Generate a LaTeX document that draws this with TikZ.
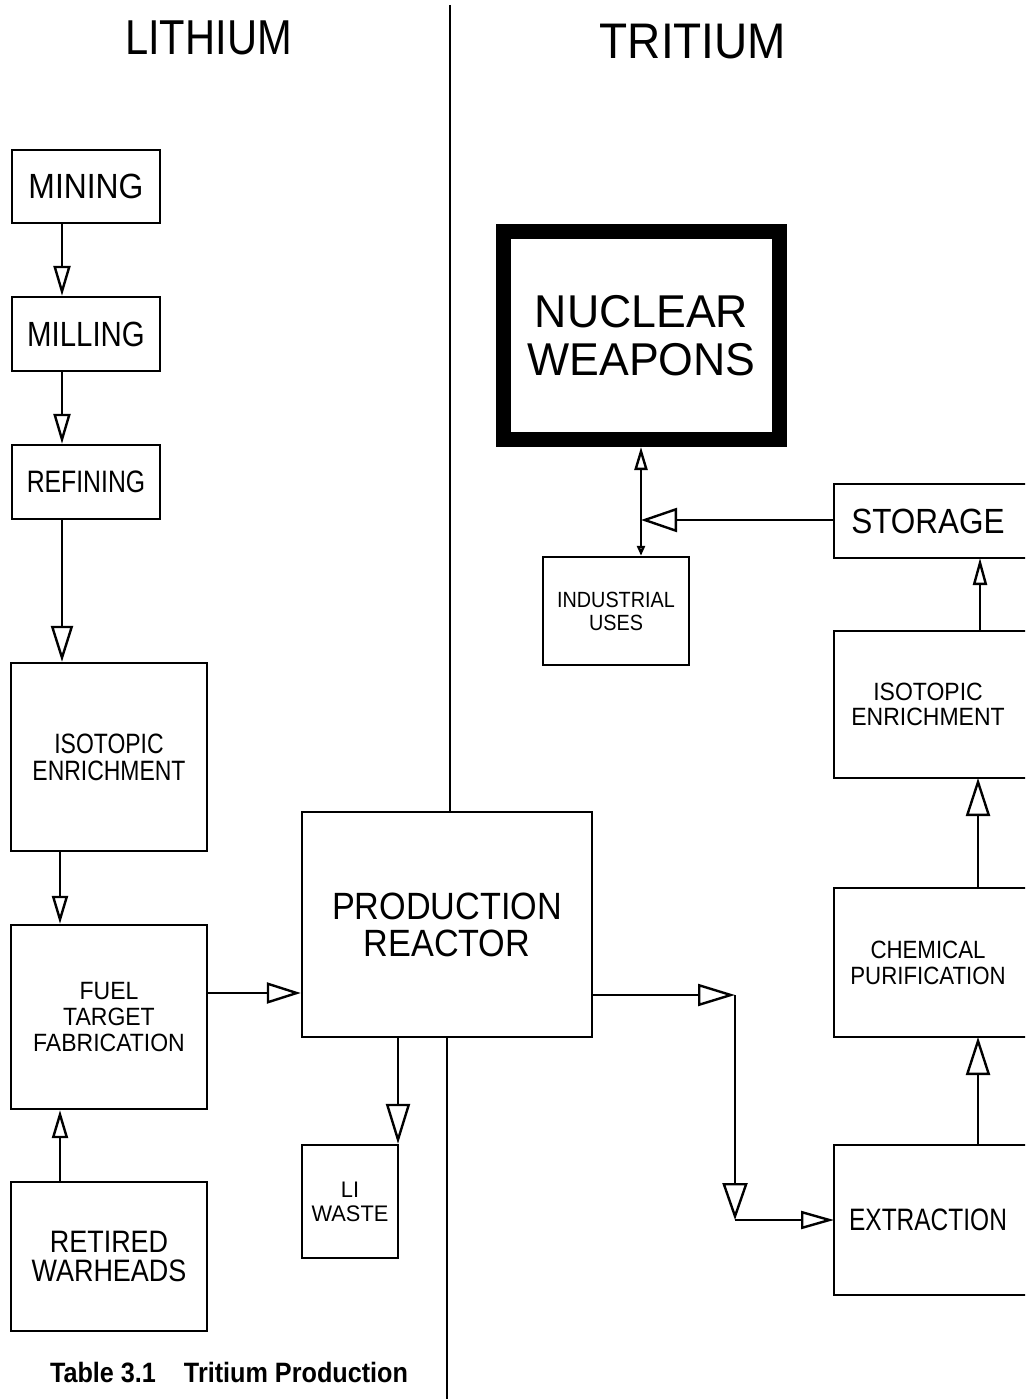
\documentclass[tikz,border=0pt]{standalone}
\usepackage{fontspec}
\setmainfont{Liberation Sans}
\usetikzlibrary{arrows.meta}
\newcommand\fs[3]{\fontsize{#1}{#2}\selectfont\addfontfeature{FakeStretch=#3}}
\begin{document}
\begin{tikzpicture}[x=1pt,y=-1pt,
  box/.style={draw, line width=2.4pt, inner sep=0pt, align=center},
  rbox/.style={draw=none, inner sep=0pt, outer sep=0pt, align=center, minimum width=188pt},
  side/.style={line width=2.4pt},
  conn/.style={line width=2.4pt},
  txt/.style={inner sep=0pt, align=center}
]
\useasboundingbox (0,0) rectangle (1025,1399);
\clip (0,0) rectangle (1025,1399);

% titles
\node[txt, font=\fs{49}{50}{0.85}] (tlith) at (208.5,38) {LITHIUM};
\node[txt, font=\fs{50}{50}{0.92}] (ttrit) at (693,42) {TRITIUM};

% left column
\node[box, minimum width=148pt, minimum height=73pt, font=\fs{35}{36}{0.91}] (mining) at (86,186.5) {MINING};
\node[box, minimum width=148pt, minimum height=74pt, font=\fs{35}{36}{0.84}] (milling) at (86,334) {MILLING};
\node[box, minimum width=148pt, minimum height=74pt, font=\fs{31}{32}{0.8}] (refining) at (86,482) {REFINING};
\node[box, minimum width=196pt, minimum height=188pt, font=\fs{28}{27}{0.82}] (isoL) at (109,757) {ISOTOPIC\\ENRICHMENT};
\node[box, minimum width=196pt, minimum height=184pt, font=\fs{25}{26}{0.92}] (fuel) at (109,1017) {FUEL\\TARGET\\FABRICATION};
\node[box, minimum width=196pt, minimum height=149pt, font=\fs{31}{29}{0.87}] (retired) at (109,1256.5) {RETIRED\\WARHEADS};

% centre
\node[box, minimum width=290pt, minimum height=225pt, font=\fs{38}{37}{0.9}] (reactor) at (447,924.5) {PRODUCTION\\REACTOR};
\node[box, minimum width=96pt, minimum height=113pt, font=\fs{22.5}{24}{0.97}] (liwaste) at (350,1201.5) {LI\\WASTE};
\node[box, line width=15pt, minimum width=276pt, minimum height=208pt, font=\fs{46}{48}{0.97}] (nw) at (641.5,335.5) {NUCLEAR\\WEAPONS};
\node[box, minimum width=146pt, minimum height=108pt, font=\fs{22}{23}{0.9}] (iu) at (616,611) {INDUSTRIAL\\USES};

% right column (boxes run off the right edge)
\node[rbox, minimum height=74pt, font=\fs{35}{36}{0.9}] (storage) at (928,521) {STORAGE};
\node[rbox, minimum height=147pt, font=\fs{25}{25}{0.92}] (isoR) at (928,704.5) {ISOTOPIC\\ENRICHMENT};
\node[rbox, minimum height=149pt, font=\fs{25}{26}{0.89}] (chem) at (928,962.5) {CHEMICAL\\PURIFICATION};
\node[rbox, minimum height=150pt, font=\fs{31}{32}{0.79}] (extr) at (928,1220) {EXTRACTION};
\foreach \n in {storage,isoR,chem,extr}
  \draw[side] ([xshift=40pt]\n.north east) -- (\n.north west) -- (\n.south west) -- ([xshift=40pt]\n.south east);

% caption
\node[txt, font={\bfseries\fs{28}{28}{0.9}}] (cap) at (229,1372) {Table 3.1\quad Tritium Production};

% helper coordinates
\coordinate (xL) at (62,0);
\coordinate (xL2) at (60,0);
\coordinate (yF) at (0,993);
\coordinate (xW) at (398,0);
\coordinate (c1) at (735,995);
\coordinate (c2) at (735,1220);
\coordinate (xR) at (978,0);
\coordinate (xR2) at (980,0);
\coordinate (j) at (641,520);
\coordinate (dt) at (450,5);
\coordinate (db) at (447,1399);

% divider
\draw[conn] (dt) -- (dt |- reactor.north);
\draw[conn] (reactor.south -| db) -- (db);

% connectors
\draw[conn, -{Triangle[open,length=30pt,width=17pt]}] (mining.south -| xL) -- (milling.north -| xL);
\draw[conn, -{Triangle[open,length=30pt,width=17pt]}] (milling.south -| xL) -- (refining.north -| xL);
\draw[conn, -{Triangle[open,length=36pt,width=22pt]}] (refining.south -| xL) -- (isoL.north -| xL);
\draw[conn, -{Triangle[open,length=28pt,width=16pt]}] (isoL.south -| xL2) -- (fuel.north -| xL2);
\draw[conn, -{Triangle[open,length=28pt,width=16pt]}] (retired.north -| xL2) -- (fuel.south -| xL2);
\draw[conn, -{Triangle[open,length=34pt,width=21pt]}] (fuel.east |- yF) -- (reactor.west |- yF);
\draw[conn, -{Triangle[open,length=40pt,width=24pt]}] (reactor.south -| xW) -- (liwaste.north -| xW);
\draw[conn, -{Triangle[open,length=37pt,width=22pt]}] (reactor.east |- c1) -- (c1);
\draw[conn, -{Triangle[open,length=37pt,width=25pt]}] (c1) -- (c2);
\draw[conn, -{Triangle[open,length=33pt,width=18pt]}] (c2) -- (extr.west |- c2);
\draw[conn, -{Triangle[open,length=38pt,width=24pt]}] (extr.north -| xR) -- (chem.south -| xR);
\draw[conn, -{Triangle[open,length=38pt,width=24pt]}] (chem.north -| xR) -- (isoR.south -| xR);
\draw[conn, -{Triangle[open,length=27pt,width=14pt]}] (isoR.north -| xR2) -- (storage.south -| xR2);
\draw[conn, -{Triangle[open,length=36pt,width=24pt]}] (storage.west |- j) -- (j);
\draw[conn, {Triangle[open,length=23pt,width=13pt]}-{Triangle[open,length=10pt,width=8pt]}] (nw.south -| j) -- (iu.north -| j);
\end{tikzpicture}
\end{document}
